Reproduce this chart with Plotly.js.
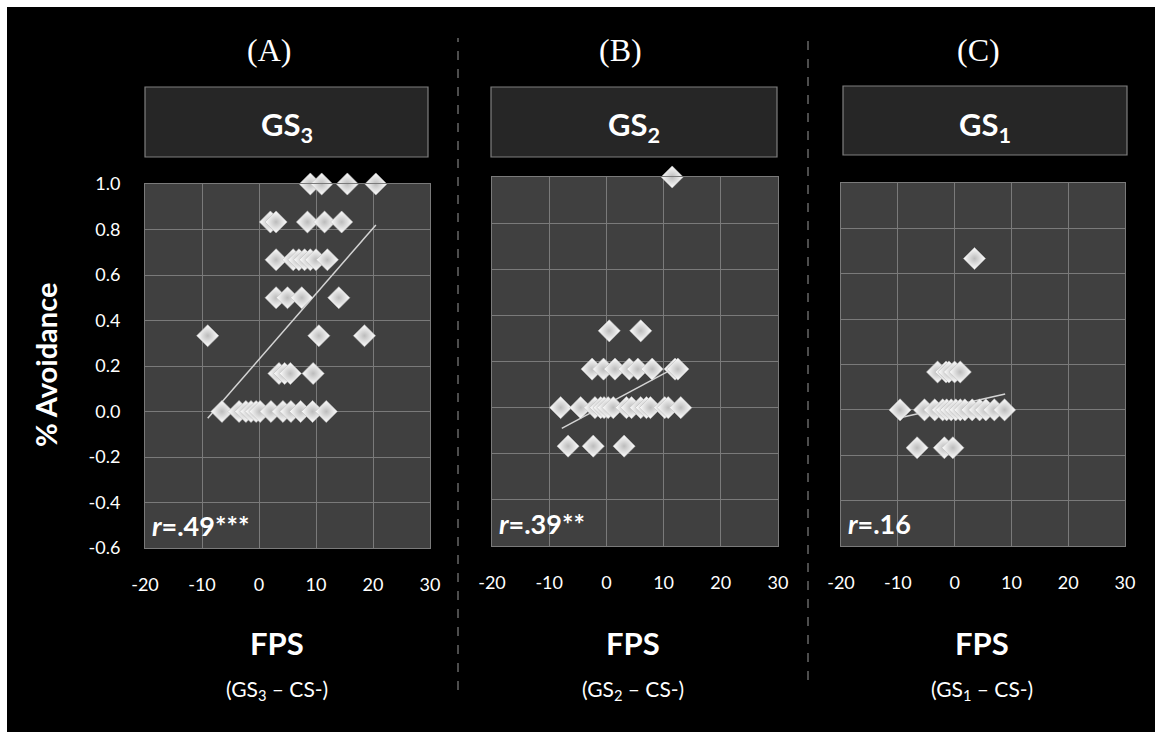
<!DOCTYPE html>
<html>
<head>
<meta charset="utf-8">
<script src="https://cdn.plot.ly/plotly-3.0.1.min.js"></script>
<style>
  html, body { margin: 0; padding: 0; background: #ffffff; width: 1155px; height: 732px; overflow: hidden; }
  #chart { position: absolute; left: 7px; top: 7px; width: 1148px; height: 725px; }
</style>
</head>
<body>
<div id="chart"></div>
<script>
// ---------- data ----------
const panelLabels = ['(A)', '(B)', '(C)'];
const stimulusLabels = ['3', '2', '1'];          // GS subscripts
const corrLabels = ['.49***', '.39**', '.16'];

// Panel A: GS3
const xA = [9, 11, 15.5, 20.5,
            2, 3, 8.5, 11.5, 14.5,
            3, 6, 7, 8, 9, 10, 12,
            3, 5, 7.5, 14,
            -9, 10.5, 18.5,
            3.5, 4.5, 5.5, 9.5,
            -6.5, -3.5, -2.3, -1.4, -0.5, 0.2, 2.1, 4.2, 5.6, 7.3, 9.4, 11.8];
const yA = [1, 1, 1, 1,
            0.833, 0.833, 0.833, 0.833, 0.833,
            0.667, 0.667, 0.667, 0.667, 0.667, 0.667, 0.667,
            0.5, 0.5, 0.5, 0.5,
            0.333, 0.333, 0.333,
            0.167, 0.167, 0.167, 0.167,
            0, 0, 0, 0, 0, 0, 0, 0, 0, 0, 0, 0];
const trendAx = [-9, 20.5];
const trendAy = [-0.03, 0.82];

// Panel B: GS2
const xB = [11.5,
            0.5, 6,
            -2.5, -0.5, 1.5, 4, 5.5, 8, 12, 12.5,
            -8, -4.5, -2, -1, -0.4, 0.3, 1.2, 3.5, 4.4, 6, 7, 7.7, 10.2, 10.8, 13,
            -6.7, -2.3, 3.1];
const yB = [1,
            0.333, 0.333,
            0.167, 0.167, 0.167, 0.167, 0.167, 0.167, 0.167, 0.167,
            0, 0, 0, 0, 0, 0, 0, 0, 0, 0, 0, 0, 0, 0, 0,
            -0.167, -0.167, -0.167];
const trendBx = [-7.8, 12.5];
const trendBy = [-0.09, 0.18];

// Panel C: GS1
const xC = [3.5,
            -3, -1.5, -1, 0, 1,
            -9.6, -5.3, -3.5, -2.1, -1.4, -0.6, 0.2, 1, 1.8, 3.1, 4.4, 5.5, 7, 8.8,
            -6.6, -1.8, -0.3];
const yC = [0.667,
            0.167, 0.167, 0.167, 0.167, 0.167,
            0, 0, 0, 0, 0, 0, 0, 0, 0, 0, 0, 0, 0, 0,
            -0.167, -0.167, -0.167];
const trendCx = [-9.6, 8.9];
const trendCy = [-0.035, 0.07];

const xTickVals = [-20, -10, 0, 10, 20, 30];
const xTickText = ['-20', '-10', '0', '10', '20', '30'];
const yTickVals = [-0.6, -0.4, -0.2, 0, 0.2, 0.4, 0.6, 0.8, 1.0];
const yTickText = ['-0.6', '-0.4', '-0.2', '0.0', '0.2', '0.4', '0.6', '0.8', '1.0'];

// ---------- layout helpers (page pixels -> paper) ----------
const W = 1148, H = 725, OX = 7, OY = 7;
const fx = px => (px - OX) / W;
const fy = py => 1 - (py - OY) / H;

const plots = [
  {x0: 145, x1: 430, y0: 184, y1: 548},
  {x0: 492, x1: 778, y0: 177, y1: 546},
  {x0: 841, x1: 1125, y0: 183, y1: 546}
];
const boxes = [
  {x0: 145, x1: 428, y0: 87, y1: 157},
  {x0: 491, x1: 777, y0: 87, y1: 157},
  {x0: 843, x1: 1127, y0: 86, y1: 155}
];
const centers = [277, 633, 982];
const panelLabelX = [269, 620, 978];

const sans = 'Lato, "Open Sans", sans-serif';
const markerStyle = {
  symbol: 'diamond', size: 17, color: '#ffffff',
  line: {color: '#bdbdbd', width: 0.6},
  gradient: {type: 'radial', color: '#bcbcbc'}
};

const series = [[xA, yA, trendAx, trendAy], [xB, yB, trendBx, trendBy], [xC, yC, trendCx, trendCy]];
const traces = [];
series.forEach((s, i) => {
  const xa = i === 0 ? 'x' : 'x' + (i + 1);
  const ya = i === 0 ? 'y' : 'y' + (i + 1);
  traces.push({x: s[2], y: s[3], xaxis: xa, yaxis: ya, type: 'scatter', mode: 'lines',
               line: {color: '#d4d4d4', width: 1.5}, hoverinfo: 'skip', showlegend: false});
  traces.push({x: s[0], y: s[1], xaxis: xa, yaxis: ya, type: 'scatter', mode: 'markers',
               marker: markerStyle, cliponaxis: false, showlegend: false});
});

const layout = {
  width: W, height: H,
  margin: {l: 0, r: 0, t: 0, b: 0},
  paper_bgcolor: '#000000',
  plot_bgcolor: '#404040',
  showlegend: false,
  font: {family: sans, color: '#ffffff', size: 18},
  shapes: [],
  annotations: []
};

plots.forEach((p, i) => {
  const sfx = i === 0 ? '' : String(i + 1);
  layout['xaxis' + sfx] = {
    domain: [fx(p.x0), fx(p.x1)], range: [-20, 30], anchor: 'y' + sfx,
    tickvals: xTickVals, ticktext: xTickText, showgrid: true, gridcolor: '#7a7a7a', gridwidth: 1,
    zeroline: false, showline: true, linecolor: '#7a7a7a', mirror: true, ticks: '',
    ticklabelstandoff: 20, tickfont: {family: sans, size: 18, color: '#ffffff'}, fixedrange: true
  };
  layout['yaxis' + sfx] = {
    domain: [fy(p.y1), fy(p.y0)], range: [-0.6, 1.0], anchor: 'x' + sfx,
    tickvals: yTickVals, ticktext: yTickText, showticklabels: i === 0,
    showgrid: true, gridcolor: '#7a7a7a', gridwidth: 1,
    zeroline: false, showline: true, linecolor: '#7a7a7a', mirror: true, ticks: '',
    ticklabelstandoff: 20, tickfont: {family: sans, size: 18, color: '#ffffff'}, fixedrange: true
  };
});

boxes.forEach((b, i) => {
  layout.shapes.push({type: 'rect', xref: 'paper', yref: 'paper',
    x0: fx(b.x0), x1: fx(b.x1), y0: fy(b.y1), y1: fy(b.y0),
    fillcolor: '#262626', line: {color: '#7f7f7f', width: 1.2}});
  layout.annotations.push({xref: 'paper', yref: 'paper', x: fx((b.x0 + b.x1) / 2), y: fy(126),
    text: '<b>GS<sub>' + stimulusLabels[i] + '</sub></b>', showarrow: false,
    font: {family: sans, size: 31, color: '#ffffff'}, xanchor: 'center', yanchor: 'middle'});
  layout.annotations.push({xref: 'paper', yref: 'paper', x: fx(panelLabelX[i]), y: fy(50),
    text: panelLabels[i], showarrow: false,
    font: {family: '"Liberation Serif", "DejaVu Serif", serif', size: 32, color: '#ffffff'},
    xanchor: 'center', yanchor: 'middle'});
  layout.annotations.push({xref: 'paper', yref: 'paper', x: fx(centers[i]), y: fy(643),
    text: '<b>FPS</b>', showarrow: false,
    font: {family: sans, size: 31, color: '#ffffff'}, xanchor: 'center', yanchor: 'middle'});
  layout.annotations.push({xref: 'paper', yref: 'paper', x: fx(centers[i]), y: fy(690),
    text: '(GS<sub>' + stimulusLabels[i] + '</sub> – CS-)', showarrow: false,
    font: {family: sans, size: 21, color: '#ffffff'}, xanchor: 'center', yanchor: 'middle'});
  layout.annotations.push({xref: 'paper', yref: 'paper', x: fx(plots[i].x0 + 5), y: fy(plots[i].y1 - 23),
    text: '<b><i>r</i>=' + corrLabels[i] + '</b>', showarrow: false,
    font: {family: sans, size: 27, color: '#ffffff'}, xanchor: 'left', yanchor: 'middle'});
});

// dashed separators
[[458, 38, 690], [808, 38, 680]].forEach(d => {
  layout.shapes.push({type: 'line', xref: 'paper', yref: 'paper',
    x0: fx(d[0]), x1: fx(d[0]), y0: fy(d[2]), y1: fy(d[1]),
    line: {color: '#9a9a9a', width: 1, dash: 'dash'}});
});

layout.annotations.push({xref: 'paper', yref: 'paper', x: fx(45), y: fy(365),
  text: '<b>% Avoidance</b>', textangle: -90, showarrow: false,
  font: {family: sans, size: 29, color: '#ffffff'}, xanchor: 'center', yanchor: 'middle'});

Plotly.newPlot('chart', traces, layout, {displayModeBar: false, staticPlot: true});
</script>
</body>
</html>
